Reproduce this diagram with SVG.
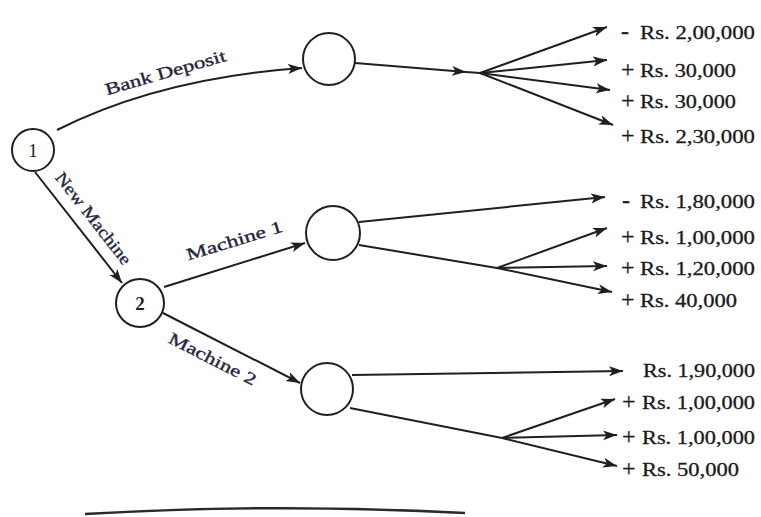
<svg xmlns="http://www.w3.org/2000/svg" width="761" height="517" viewBox="0 0 761 517">
<style>
.node{fill:#fff;stroke:#1f1f1f;stroke-width:2}
.num{font-family:"Liberation Serif",serif;font-size:19px;fill:#1f1f1f;text-anchor:middle}
.edge{fill:none;stroke:#1f1f1f;stroke-width:2}
.lbl{font-family:"Liberation Serif",serif;font-size:17px;fill:#262640;stroke:#262640;stroke-width:0.35;text-anchor:middle}
.val{font-family:"Liberation Serif",serif;font-size:19px;fill:#1a1a1a;stroke:#1a1a1a;stroke-width:0.3}
.sign{font-size:24px}
</style>
<defs>
<marker id="ah" markerUnits="userSpaceOnUse" markerWidth="15" markerHeight="11" refX="14" refY="5" orient="auto">
<path d="M0,0 L14,5 L0,10 L3.5,5 Z" fill="#1f1f1f"/>
</marker>
</defs>
<rect width="761" height="517" fill="#fff"/>
<g id="connectors">
<path class="edge" d="M57,130 Q160,78 302,68" marker-end="url(#ah)"/>
<line class="edge" x1="35" y1="172" x2="122" y2="283" marker-end="url(#ah)"/>
<line class="edge" x1="164" y1="287" x2="305" y2="243" marker-end="url(#ah)"/>
<line class="edge" x1="163" y1="313" x2="300" y2="383" marker-end="url(#ah)"/>
<line class="edge" x1="355" y1="63" x2="466" y2="72" marker-end="url(#ah)"/>
<line class="edge" x1="466" y1="72" x2="480" y2="73"/>
<line class="edge" x1="480" y1="73" x2="607" y2="27" marker-end="url(#ah)"/>
<line class="edge" x1="480" y1="73" x2="607" y2="60" marker-end="url(#ah)"/>
<line class="edge" x1="480" y1="73" x2="610" y2="90" marker-end="url(#ah)"/>
<line class="edge" x1="480" y1="73" x2="613" y2="125" marker-end="url(#ah)"/>
<line class="edge" x1="359" y1="222" x2="605" y2="197" marker-end="url(#ah)"/>
<line class="edge" x1="359" y1="245" x2="497" y2="268"/>
<line class="edge" x1="497" y1="268" x2="607" y2="228" marker-end="url(#ah)"/>
<line class="edge" x1="497" y1="268" x2="607" y2="266" marker-end="url(#ah)"/>
<line class="edge" x1="497" y1="268" x2="612" y2="292" marker-end="url(#ah)"/>
<line class="edge" x1="352" y1="375" x2="623" y2="371" marker-end="url(#ah)"/>
<line class="edge" x1="350" y1="408" x2="502" y2="438"/>
<line class="edge" x1="502" y1="438" x2="615" y2="399" marker-end="url(#ah)"/>
<line class="edge" x1="502" y1="438" x2="617" y2="435" marker-end="url(#ah)"/>
<line class="edge" x1="502" y1="438" x2="617" y2="466" marker-end="url(#ah)"/>
</g>
<g id="edge-labels">
<text class="lbl" x="167" y="78" transform="rotate(-16 167 78)" textLength="125" lengthAdjust="spacingAndGlyphs">Bank Deposit</text>
<text class="lbl" x="89" y="222" transform="rotate(52 89 222)" textLength="112" lengthAdjust="spacingAndGlyphs">New Machine</text>
<text class="lbl" x="236" y="246" transform="rotate(-17 236 246)" textLength="100" lengthAdjust="spacingAndGlyphs">Machine 1</text>
<text class="lbl" x="210" y="364" transform="rotate(27 210 364)" textLength="96" lengthAdjust="spacingAndGlyphs">Machine 2</text>
</g>
<g id="node1"><circle class="node" cx="33" cy="150" r="21"/><text class="num" x="33" y="157">1</text></g>
<g id="node2"><circle class="node" cx="140" cy="303" r="24"/><text class="num" x="140" y="310" font-weight="bold">2</text></g>
<g id="nodeA"><circle class="node" cx="329" cy="59" r="26"/></g>
<g id="nodeB"><circle class="node" cx="333" cy="233" r="27"/></g>
<g id="nodeC"><circle class="node" cx="327" cy="389" r="26"/></g>
<g id="outcomes">
<text class="val" y="39"><tspan class="sign" x="621">-</tspan><tspan x="640" textLength="115" lengthAdjust="spacingAndGlyphs">Rs. 2,00,000</tspan></text>
<text class="val" y="77"><tspan class="sign" x="621">+</tspan><tspan x="640" textLength="96" lengthAdjust="spacingAndGlyphs">Rs. 30,000</tspan></text>
<text class="val" y="108"><tspan class="sign" x="621">+</tspan><tspan x="640" textLength="96" lengthAdjust="spacingAndGlyphs">Rs. 30,000</tspan></text>
<text class="val" y="143"><tspan class="sign" x="621">+</tspan><tspan x="640" textLength="115" lengthAdjust="spacingAndGlyphs">Rs. 2,30,000</tspan></text>
<text class="val" y="208"><tspan class="sign" x="622">-</tspan><tspan x="640" textLength="115" lengthAdjust="spacingAndGlyphs">Rs. 1,80,000</tspan></text>
<text class="val" y="244"><tspan class="sign" x="621">+</tspan><tspan x="640" textLength="115" lengthAdjust="spacingAndGlyphs">Rs. 1,00,000</tspan></text>
<text class="val" y="275"><tspan class="sign" x="621">+</tspan><tspan x="640" textLength="115" lengthAdjust="spacingAndGlyphs">Rs. 1,20,000</tspan></text>
<text class="val" y="307"><tspan class="sign" x="621">+</tspan><tspan x="640" textLength="97" lengthAdjust="spacingAndGlyphs">Rs. 40,000</tspan></text>
<text class="val" x="643" y="377" textLength="112" lengthAdjust="spacingAndGlyphs">Rs. 1,90,000</text>
<text class="val" y="409"><tspan class="sign" x="622">+</tspan><tspan x="642" textLength="113" lengthAdjust="spacingAndGlyphs">Rs. 1,00,000</tspan></text>
<text class="val" y="444"><tspan class="sign" x="622">+</tspan><tspan x="642" textLength="113" lengthAdjust="spacingAndGlyphs">Rs. 1,00,000</tspan></text>
<text class="val" y="476"><tspan class="sign" x="622">+</tspan><tspan x="642" textLength="97" lengthAdjust="spacingAndGlyphs">Rs. 50,000</tspan></text>
</g>
<path d="M85,514 Q275,503 465,513" fill="none" stroke="#2a2a2a" stroke-width="2.5"/>
</svg>
